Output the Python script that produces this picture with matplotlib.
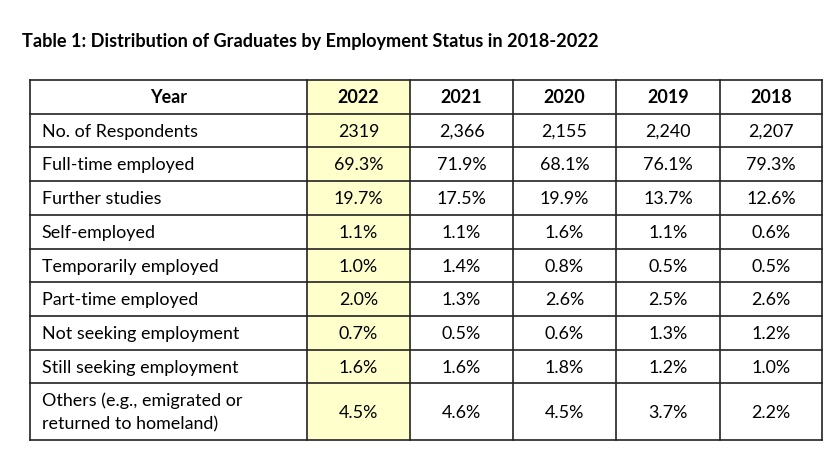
import matplotlib
matplotlib.use("Agg")
import matplotlib.pyplot as plt
from matplotlib.patches import Rectangle

plt.rcParams['font.family'] = ['Lato', 'DejaVu Sans']

title = "Table 1: Distribution of Graduates by Employment Status in 2018-2022"
years = ["2022", "2021", "2020", "2019", "2018"]
row_labels = ["No. of Respondents", "Full-time employed", "Further studies",
              "Self-employed", "Temporarily employed", "Part-time employed",
              "Not seeking employment", "Still seeking employment",
              "Others (e.g., emigrated or\nreturned to homeland)"]
v2022 = ["2319", "69.3%", "19.7%", "1.1%", "1.0%", "2.0%", "0.7%", "1.6%", "4.5%"]
v2021 = ["2,366", "71.9%", "17.5%", "1.1%", "1.4%", "1.3%", "0.5%", "1.6%", "4.6%"]
v2020 = ["2,155", "68.1%", "19.9%", "1.6%", "0.8%", "2.6%", "0.6%", "1.8%", "4.5%"]
v2019 = ["2,240", "76.1%", "13.7%", "1.1%", "0.5%", "2.5%", "1.3%", "1.2%", "3.7%"]
v2018 = ["2,207", "79.3%", "12.6%", "0.6%", "0.5%", "2.6%", "1.2%", "1.0%", "2.2%"]
columns = [v2022, v2021, v2020, v2019, v2018]

# layout in pixels
col_edges = [30, 307, 410, 513, 616, 720, 822]
row_edges = [80, 113.5, 147.3, 181, 214.7, 248.5, 282.2, 316, 349.5, 383.3, 440]
highlight = "#FFFFCC"
line_c = "#222222"
fs = 12.9
cap = 6.2      # half cap height in px, to put baselines
line_gap = 24  # px between the two lines of the last label

fig = plt.figure(figsize=(8.31, 4.58), dpi=100)
ax = fig.add_axes([0, 0, 1, 1])
ax.set_xlim(0, 831)
ax.set_ylim(458, 0)
ax.axis("off")

ax.text(22.5, 47.3, title, fontsize=13.05, fontweight="bold", va="baseline", ha="left")

# highlighted 2022 column
ax.add_patch(Rectangle((col_edges[1], row_edges[0]), col_edges[2] - col_edges[1],
                       row_edges[-1] - row_edges[0], facecolor=highlight, edgecolor="none"))

for y in row_edges:
    ax.plot([col_edges[0], col_edges[-1]], [y, y], color=line_c, lw=1.2, solid_capstyle="projecting")
for x in col_edges:
    ax.plot([x, x], [row_edges[0], row_edges[-1]], color=line_c, lw=1.2, solid_capstyle="projecting")

# header
hy = (row_edges[0] + row_edges[1]) / 2 + cap
ax.text((col_edges[0] + col_edges[1]) / 2, hy, "Year", fontsize=fs, fontweight="bold", ha="center", va="baseline")
for i, yr in enumerate(years):
    cx = (col_edges[i + 1] + col_edges[i + 2]) / 2
    ax.text(cx, hy, yr, fontsize=fs, fontweight="bold", ha="center", va="baseline")

# body
for r, lab in enumerate(row_labels):
    cy = (row_edges[r + 1] + row_edges[r + 2]) / 2
    lines = lab.split("\n")
    y0 = cy + cap - line_gap * (len(lines) - 1) / 2
    for k, ln in enumerate(lines):
        ax.text(col_edges[0] + 11.5, y0 + k * line_gap, ln, fontsize=fs, ha="left", va="baseline")
    for i, col in enumerate(columns):
        cx = (col_edges[i + 1] + col_edges[i + 2]) / 2
        ax.text(cx, cy + cap, col[r], fontsize=fs, ha="center", va="baseline")

fig.savefig("out.png", dpi=100)
